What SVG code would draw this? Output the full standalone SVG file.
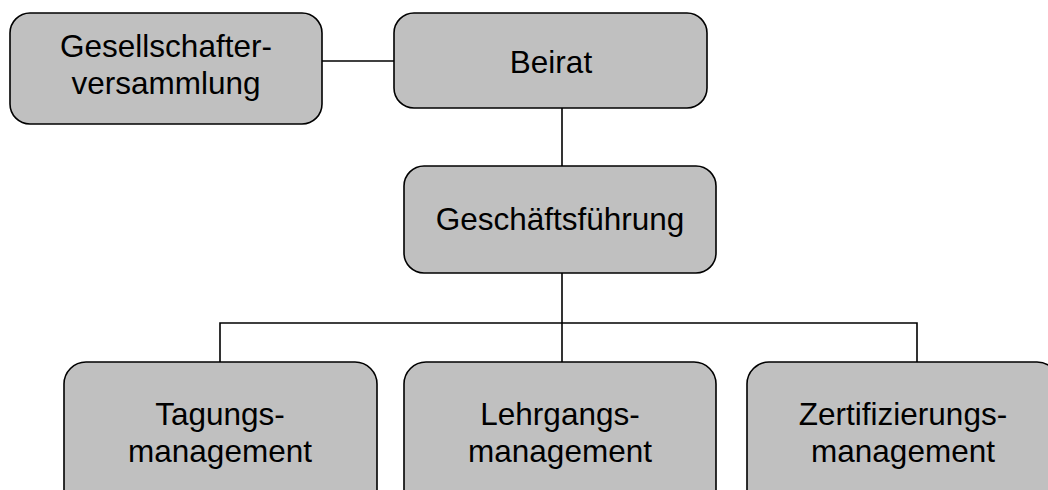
<svg xmlns="http://www.w3.org/2000/svg" width="1048" height="490" viewBox="0 0 1048 490">
<style>
.box{fill:#c0c0c0;stroke:#000;stroke-width:1.6}
.lbl{font-family:"Liberation Sans",Arial,sans-serif;font-size:31.5px;fill:#000;text-anchor:middle}
.con{fill:none;stroke:#000;stroke-width:1.6}
</style>
<rect width="1048" height="490" fill="#fff"/>
<g id="connectors">
<line class="con" x1="322" y1="61" x2="394" y2="61"/>
<line class="con" x1="562" y1="108" x2="562" y2="166"/>
<line class="con" x1="562" y1="273" x2="562" y2="362"/>
<polyline class="con" points="220,362 220,323 917,323 917,362"/>
</g>
<g id="gesellschafterversammlung">
<rect class="box" x="10" y="13" width="312" height="111" rx="20"/>
<text class="lbl" x="166" y="57">Gesellschafter-</text>
<text class="lbl" x="166" y="94">versammlung</text>
</g>
<g id="beirat">
<rect class="box" x="394" y="13" width="313" height="95" rx="20"/>
<text class="lbl" x="551" y="73">Beirat</text>
</g>
<g id="geschaeftsfuehrung">
<rect class="box" x="404" y="166" width="312" height="107" rx="20"/>
<text class="lbl" x="560" y="230">Geschäftsführung</text>
</g>
<g id="tagungsmanagement">
<rect class="box" x="64" y="362" width="313" height="150" rx="22"/>
<text class="lbl" x="220" y="425">Tagungs-</text>
<text class="lbl" x="220" y="462">management</text>
</g>
<g id="lehrgangsmanagement">
<rect class="box" x="404" y="362" width="312" height="150" rx="22"/>
<text class="lbl" x="560" y="425">Lehrgangs-</text>
<text class="lbl" x="560" y="462">management</text>
</g>
<g id="zertifizierungsmanagement">
<rect class="box" x="747" y="362" width="312" height="150" rx="22"/>
<text class="lbl" x="903" y="425">Zertifizierungs-</text>
<text class="lbl" x="903" y="462">management</text>
</g>
</svg>
